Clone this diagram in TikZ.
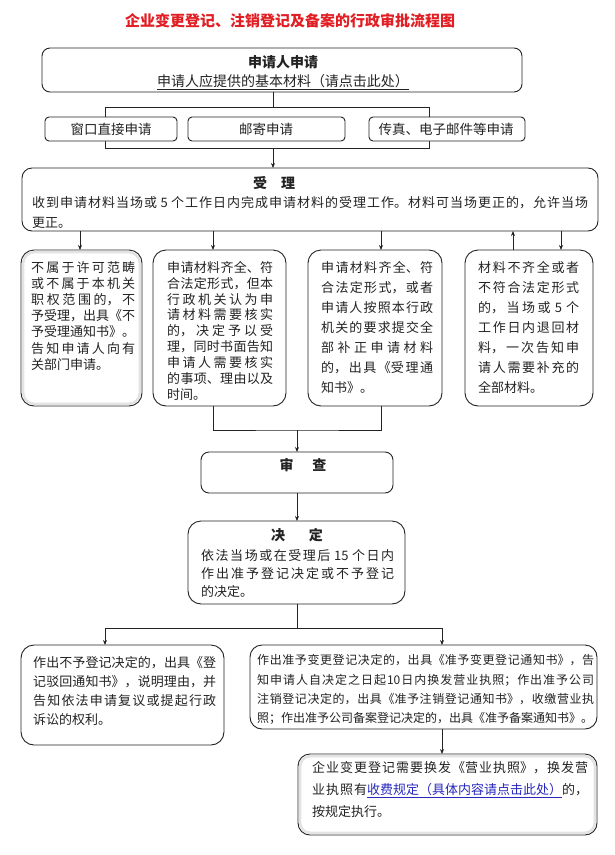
\documentclass[tikz,border=0pt]{standalone}
\usepackage{fontspec}
\setmainfont{Noto Sans CJK SC}
\usetikzlibrary{arrows.meta}
\XeTeXlinebreaklocale "zh"
\XeTeXlinebreakskip=0pt plus 3pt
\definecolor{titlered}{RGB}{225,30,35}
\definecolor{linkblue}{RGB}{40,40,190}
\definecolor{ink}{RGB}{35,35,35}
\begin{document}
\begin{tikzpicture}[x=1pt,y=-1pt,
  box/.style={draw=ink, line width=0.9pt, fill=white, inner sep=0pt, outer sep=0pt, anchor=north west},
  txt/.style={inner sep=0pt, anchor=north west, align=justify, text=ink},
  lbl/.style={inner sep=0pt, text=ink},
  head/.style={inner sep=0pt, text=ink, font=\fontsize{14}{16}\selectfont\bfseries},
  arr/.style={draw=ink, line width=0.8pt, -{Stealth[length=5pt,width=4pt]}},
  con/.style={draw=ink, line width=0.8pt},
  shade/.style={draw=gray!22, line width=2.5pt}
]
\fill[white] (0,0) rectangle (615,855);
\useasboundingbox (0,0) rectangle (615,855);

% title
\node[inner sep=0pt, text=titlered, font=\fontsize{15}{17}\selectfont\bfseries] (title) at (290,21) {企业变更登记、注销登记及备案的行政审批流程图};

% bracket behind the three ways of applying
\coordinate (b1) at (273,107);
\coordinate (b2) at (273,148);
\coordinate (bl) at (105,107);
\coordinate (br) at (429,148);
\draw[con] (bl) rectangle (br);

% boxes
\node[box, rounded corners=8pt, minimum width=480pt, minimum height=44pt] (apply) at (42,48) {};
\node[box, rounded corners=4pt, minimum width=132pt, minimum height=24pt] (win) at (45,117) {};
\node[box, rounded corners=4pt, minimum width=157pt, minimum height=24pt] (mail) at (188,117) {};
\node[box, rounded corners=4pt, minimum width=156pt, minimum height=24pt] (fax) at (369,117) {};
\node[box, rounded corners=10pt, minimum width=576pt, minimum height=63pt] (shouli) at (22,168) {};
\node[box, rounded corners=13pt, minimum width=121pt, minimum height=156pt] (bA) at (21,250) {};
\node[box, rounded corners=13pt, minimum width=133pt, minimum height=156pt] (bB) at (153,250) {};
\node[box, rounded corners=13pt, minimum width=134pt, minimum height=156pt] (bC) at (308,250) {};
\node[box, rounded corners=13pt, minimum width=128pt, minimum height=156pt] (bD) at (465,250) {};
\node[box, rounded corners=8pt, minimum width=192pt, minimum height=41pt] (shencha) at (201,452) {};
\node[box, rounded corners=13pt, minimum width=217pt, minimum height=83pt] (jueding) at (188,521) {};
\node[box, rounded corners=13pt, minimum width=203pt, minimum height=100pt] (bE) at (21,645) {};
\node[box, rounded corners=12pt, minimum width=347pt, minimum height=84pt] (bF) at (250,645) {};
\node[box, rounded corners=12pt, minimum width=299pt, minimum height=81pt] (bG) at (298,754) {};

% inner grey shading of two boxes
\draw[shade, rounded corners=11pt] ([shift={(2.2pt,-2.2pt)}]bA.north west) rectangle ([shift={(-2.2pt,2.2pt)}]bA.south east);
\draw[shade, rounded corners=10pt] ([shift={(2.2pt,-2.2pt)}]bG.north west) rectangle ([shift={(-2.2pt,2.2pt)}]bG.south east);

% texts
\node[head] (tApply) at (283,62) {申请人申请};
\node[lbl, font=\fontsize{14}{16}\selectfont] (tApply2) at (283,82) {\underline{申请人应提供的基本材料（请点击此处）}};
\node[lbl, font=\fontsize{13.5}{16}\selectfont] (tWin) at (111,129) {窗口直接申请};
\node[lbl, font=\fontsize{13.5}{16}\selectfont] (tMail) at (266,129) {邮寄申请};
\node[lbl, font=\fontsize{13.5}{16}\selectfont] (tFax) at (446,129) {传真、电子邮件等申请};

\node[head] (tShouli) at (274,183) {受\hspace{1em}理};
\node[txt, text width=556pt, font={\fontsize{13}{20}\selectfont\parindent=0pt}] (tShouliBody) at (32,196) {收到申请材料当场或 5 个工作日内完成申请材料的受理工作。材料可当场更正的，允许当场\linebreak 更正。};

\node[txt, text width=104pt, font={\fontsize{13}{16.2}\selectfont\parindent=0pt}] (tA) at (31,261) {不属于许可范畴\linebreak 或不属于本机关\linebreak 职权范围的，不\linebreak 予受理，出具《不\linebreak 予受理通知书》。\linebreak 告知申请人向有\linebreak 关部门申请。};
\node[txt, text width=106pt, font={\fontsize{13}{15.9}\selectfont\parindent=0pt}] (tB) at (167,261) {申请材料齐全、符\linebreak 合法定形式，但本\linebreak 行政机关认为申\linebreak 请材料需要核实\linebreak 的，决定予以受\linebreak 理，同时书面告知\linebreak 申请人需要核实\linebreak 的事项、理由以及\linebreak 时间。};
\node[txt, text width=112pt, font={\fontsize{13}{20}\selectfont\parindent=0pt}] (tC) at (321,261) {申请材料齐全、符\linebreak 合法定形式，或者\linebreak 申请人按照本行政\linebreak 机关的要求提交全\linebreak 部补正申请材料\linebreak 的，出具《受理通\linebreak 知书》。};
\node[txt, text width=101pt, font={\fontsize{13}{20}\selectfont\parindent=0pt}] (tD) at (478,261) {材料不齐全或者\linebreak 不符合法定形式\linebreak 的，当场或 5 个\linebreak 工作日内退回材\linebreak 料，一次告知申\linebreak 请人需要补充的\linebreak 全部材料。};

\node[head] (tShencha) at (303,465) {审\hspace{1.35em}查};
\node[head] (tJueding) at (297,535) {决\hspace{1.7em}定};
\node[txt, text width=193pt, font={\fontsize{13}{18}\selectfont\parindent=0pt}] (tJuedingBody) at (201,549) {依法当场或在受理后 15 个日内\linebreak 作出准予登记决定或不予登记\linebreak 的决定。};

\node[txt, text width=183pt, font={\fontsize{13}{19}\selectfont\parindent=0pt}] (tE) at (33,656) {作出不予登记决定的，出具《登\linebreak 记驳回通知书》，说明理由，并\linebreak 告知依法申请复议或提起行政\linebreak 诉讼的权利。};
\node[txt, text width=337pt, font={\fontsize{12}{19.3}\selectfont\parindent=0pt}] (tF) at (257,654.5) {作出准予变更登记决定的，出具《准予变更登记通知书》，告\linebreak 知申请人自决定之日起10日内换发营业执照；作出准予公司\linebreak 注销登记决定的，出具《准予注销登记通知书》，收缴营业执\linebreak 照；作出准予公司备案登记决定的，出具《准予备案通知书》。};
\node[txt, text width=276pt, font={\fontsize{13}{22}\selectfont\parindent=0pt}] (tG) at (312,761) {企业变更登记需要换发《营业执照》，换发营\linebreak 业执照有\textcolor{linkblue}{\underline{收费规定（具体内容请点击此处）}}的，\linebreak 按规定执行。};

% connectors
\draw[con] (apply.south -| b1) -- (b1);
\draw[arr] (b2) -- (shouli.north -| b2);

\coordinate (aA) at ([xshift=-1.5pt]bA.north);
\coordinate (aB) at ([xshift=-6.5pt]bB.north);
\coordinate (aC) at ([xshift=6pt]bC.north);
\coordinate (uD) at ([xshift=-16pt]bD.north);
\coordinate (aD) at ([xshift=32pt]bD.north);
\draw[arr] (shouli.south -| aA) -- (aA);
\draw[arr] (shouli.south -| aB) -- (aB);
\draw[arr] (shouli.south -| aC) -- (aC);
\draw[arr] (shouli.south -| aD) -- (aD);
\draw[arr] (uD) -- (shouli.south -| uD);

\coordinate (jB) at ([xshift=-6.5pt]bB.south);
\coordinate (jC) at ([xshift=6pt]bC.south);
\coordinate (jm) at (297,430);
\draw[con] (jB) |- (jm) -| (jC);
\draw[arr] (jm) -- (shencha.north);
\draw[arr] (shencha.south) -- (shencha.south |- jueding.north);

\coordinate (sm) at (297,628);
\coordinate (eT) at ([xshift=-17.5pt]bE.north);
\coordinate (fT) at ([xshift=18.5pt]bF.north);
\draw[con] (jueding.south -| sm) -- (sm);
\draw[arr] (sm) -| (eT);
\draw[arr] (sm) -| (fT);
\draw[arr] (bF.south -| fT) -- (bG.north -| fT);
\end{tikzpicture}
\end{document}
